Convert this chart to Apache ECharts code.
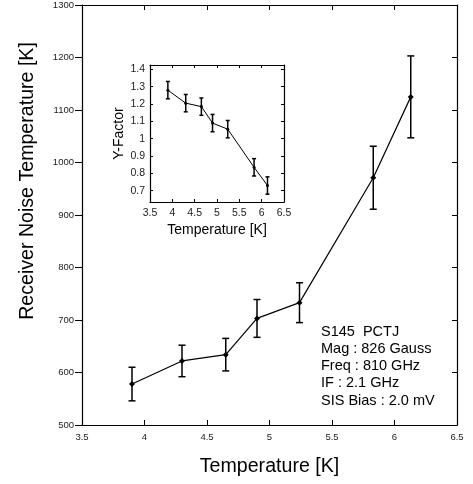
<!DOCTYPE html>
<html>
<head>
<meta charset="utf-8">
<script src="https://cdn.jsdelivr.net/npm/echarts@6/dist/echarts.min.js"></script>
<style>
  html, body { margin: 0; padding: 0; background: #fff; }
  #chart { width: 473px; height: 484px; }
</style>
</head>
<body>
<div id="chart"></div>
<script>
// bath temperature [K]
var temps = [3.9, 4.3, 4.65, 4.9, 5.24, 5.83, 6.13];
// receiver noise temperature [K] and its error
var noiseTemp = [578, 622, 634, 703, 733, 971, 1125];
var noiseErr = [32, 30, 31, 36, 38, 60, 78];
// Y-factor (inset) and its error
var yFactor = [1.28, 1.205, 1.185, 1.09, 1.055, 0.835, 0.73];
var yFactorErr = [0.05, 0.05, 0.05, 0.05, 0.05, 0.05, 0.05];
var yFactorTicks = [0.7, 0.8, 0.9, 1, 1.1, 1.2, 1.3, 1.4];
var notes = ['S145  PCTJ', 'Mag : 826 Gauss', 'Freq : 810 GHz', 'IF : 2.1 GHz', 'SIS Bias : 2.0 mV'];

var font = 'Liberation Sans, Arial, Helvetica, sans-serif';

function pairs(ys) {
  return temps.map(function (t, i) { return [t, ys[i]]; });
}
function bars(ys, errs) {
  return temps.map(function (t, i) { return [t, ys[i] - errs[i], ys[i] + errs[i]]; });
}
function errorBars(cap, width) {
  return function (params, api) {
    var top = api.coord([api.value(0), api.value(2)]);
    var bot = api.coord([api.value(0), api.value(1)]);
    var st = { stroke: '#000', lineWidth: width };
    return {
      type: 'group',
      children: [
        { type: 'line', shape: { x1: top[0], y1: top[1], x2: bot[0], y2: bot[1] }, style: st },
        { type: 'line', shape: { x1: top[0] - cap, y1: top[1], x2: top[0] + cap, y2: top[1] }, style: st },
        { type: 'line', shape: { x1: bot[0] - cap, y1: bot[1], x2: bot[0] + cap, y2: bot[1] }, style: st }
      ]
    };
  };
}
function plain(v) { return String(v); }

function frameAxis(extra) {
  return Object.assign({
    axisLine: { show: true, lineStyle: { color: '#000', width: 1.2 } },
    axisLabel: { show: false },
    splitLine: { show: false }
  }, extra);
}

var chart = echarts.init(document.getElementById('chart'));

// the y title sits above the axis middle in the original, so it is placed by hand
var graphics = notes.map(function (s, i) {
  return {
    type: 'text', left: 321, top: 324 + i * 17.3,
    style: { text: s, font: '14.5px ' + font, fill: '#000' }
  };
});
graphics.push({
  type: 'text', x: 28, y: 181, rotation: Math.PI / 2,
  style: {
    text: 'Receiver Noise Temperature [K]', font: '19.6px ' + font, fill: '#000',
    align: 'center', verticalAlign: 'middle'
  }
});

chart.setOption({
  animation: false,
  backgroundColor: '#fff',
  textStyle: { fontFamily: font },
  grid: [
    { left: 82, right: 16, top: 4, bottom: 59 },
    { left: 150, top: 65, width: 134, height: 137 }
  ],
  xAxis: [
    frameAxis({
      type: 'value', gridIndex: 0, min: 3.5, max: 6.5, interval: 0.5, position: 'bottom',
      axisTick: { inside: true, length: 5, lineStyle: { color: '#000' } },
      axisLabel: { show: true, color: '#222', fontSize: 9.5, margin: 7, formatter: plain },
      name: 'Temperature [K]', nameLocation: 'middle', nameGap: 32,
      nameTextStyle: { fontSize: 19.6, color: '#000', fontFamily: font }
    }),
    frameAxis({
      type: 'value', gridIndex: 0, min: 3.5, max: 6.5, interval: 0.5, position: 'top',
      axisTick: { inside: true, length: 5, lineStyle: { color: '#000' } }
    }),
    frameAxis({
      type: 'value', gridIndex: 1, min: 3.5, max: 6.5, interval: 0.5, position: 'bottom',
      axisTick: { inside: true, length: 3, lineStyle: { color: '#000' } },
      axisLabel: { show: true, color: '#222', fontSize: 10.5, margin: 6, formatter: plain },
      name: 'Temperature [K]', nameLocation: 'middle', nameGap: 21,
      nameTextStyle: { fontSize: 14, color: '#000', fontFamily: font }
    }),
    frameAxis({
      type: 'value', gridIndex: 1, min: 3.5, max: 6.5, interval: 0.5, position: 'top',
      axisTick: { inside: true, length: 3, lineStyle: { color: '#000' } }
    })
  ],
  yAxis: [
    frameAxis({
      type: 'value', gridIndex: 0, min: 500, max: 1300, interval: 100, position: 'left',
      axisTick: { inside: false, length: 7, lineStyle: { color: '#000' } },
      axisLabel: { show: true, color: '#222', fontSize: 9.5, margin: 8, formatter: plain }
    }),
    frameAxis({
      type: 'value', gridIndex: 0, min: 500, max: 1300, interval: 100, position: 'right',
      axisTick: { inside: true, length: 5, lineStyle: { color: '#000' } }
    }),
    frameAxis({
      type: 'value', gridIndex: 1, min: 0.635, max: 1.425, position: 'left',
      axisTick: { inside: true, length: 3, customValues: yFactorTicks, lineStyle: { color: '#000' } },
      axisLabel: { show: true, color: '#222', fontSize: 10.5, margin: 5, customValues: yFactorTicks, formatter: plain },
      name: 'Y-Factor', nameLocation: 'middle', nameGap: 24,
      nameTextStyle: { fontSize: 14, color: '#000', fontFamily: font }
    }),
    frameAxis({
      type: 'value', gridIndex: 1, min: 0.635, max: 1.425, position: 'right',
      axisTick: { inside: true, length: 3, customValues: yFactorTicks, lineStyle: { color: '#000' } }
    })
  ],
  series: [
    {
      type: 'line', xAxisIndex: 0, yAxisIndex: 0, data: pairs(noiseTemp),
      symbol: 'diamond', symbolSize: 6, itemStyle: { color: '#000' },
      lineStyle: { color: '#000', width: 1.2 }, z: 3
    },
    {
      type: 'custom', xAxisIndex: 0, yAxisIndex: 0, data: bars(noiseTemp, noiseErr),
      renderItem: errorBars(3.5, 1.5), z: 2
    },
    {
      type: 'line', xAxisIndex: 2, yAxisIndex: 2, data: pairs(yFactor),
      symbol: 'circle', symbolSize: 3, itemStyle: { color: '#000' },
      lineStyle: { color: '#000', width: 1 }, z: 3
    },
    {
      type: 'custom', xAxisIndex: 2, yAxisIndex: 2, data: bars(yFactor, yFactorErr),
      renderItem: errorBars(2, 1.5), z: 2
    }
  ],
  graphic: graphics
});
</script>
</body>
</html>
